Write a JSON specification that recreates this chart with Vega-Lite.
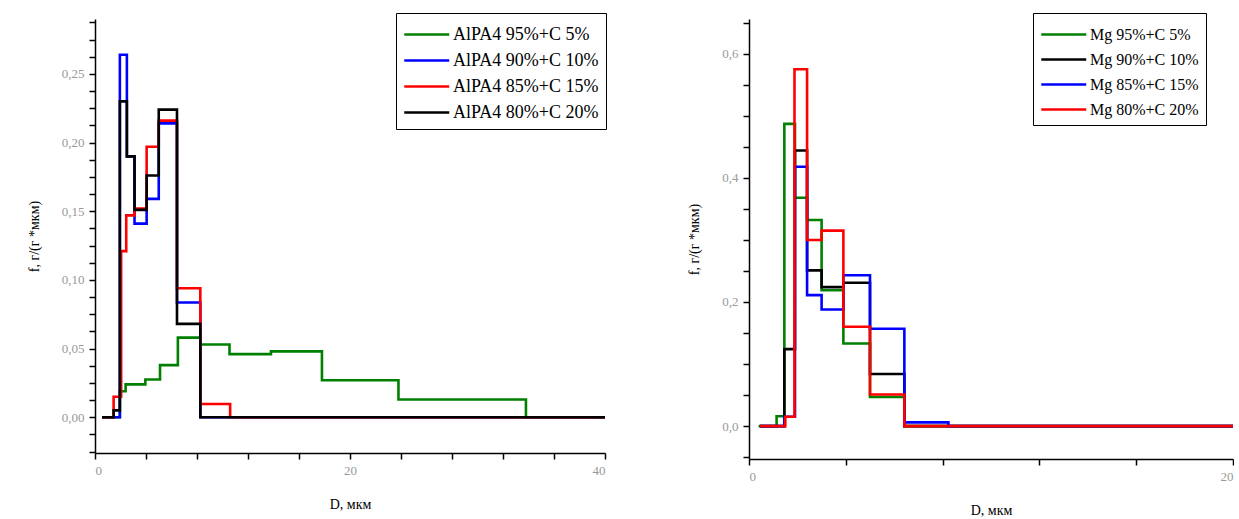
{
  "$schema": "https://vega.github.io/schema/vega-lite/v6.json",
  "padding": {"left": 27, "top": 12, "right": 0, "bottom": 0},
  "background": "white",
  "spacing": 80,
  "config": {
    "view": {"stroke": null},
    "axis": {
      "grid": false,
      "domainColor": "black",
      "domainWidth": 1.5,
      "tickColor": "black",
      "tickWidth": 1.5,
      "tickSize": 6,
      "labelColor": "#999999",
      "labelFont": "Liberation Serif",
      "labelFontSize": 13,
      "labelPadding": 5,
      "titleFont": "Liberation Serif",
      "titleFontSize": 14,
      "titleFontWeight": "normal",
      "titleColor": "black"
    },
    "legend": {
      "labelFont": "Liberation Serif",
      "labelColor": "black",
      "labelLimit": 300,
      "labelOffset": 21,
      "symbolType": "M-1,0H2.4",
      "symbolStrokeWidth": 2.5,
      "symbolSize": 700,
      "symbolFillColor": "transparent",
      "strokeColor": "black",
      "fillColor": "white",
      "padding": 7,
      "rowPadding": 2
    }
  },
  "hconcat": [
    {
      "width": 510,
      "height": 434,
      "data": {"values": [
        {"s": "AlPA4 95%+C 5%", "d": 0.55, "f": 0},
        {"s": "AlPA4 95%+C 5%", "d": 1.95, "f": 0.019},
        {"s": "AlPA4 95%+C 5%", "d": 2.4, "f": 0.024},
        {"s": "AlPA4 95%+C 5%", "d": 3.95, "f": 0.0275},
        {"s": "AlPA4 95%+C 5%", "d": 5.1, "f": 0.038},
        {"s": "AlPA4 95%+C 5%", "d": 6.5, "f": 0.058},
        {"s": "AlPA4 95%+C 5%", "d": 8.26, "f": 0.053},
        {"s": "AlPA4 95%+C 5%", "d": 10.55, "f": 0.046},
        {"s": "AlPA4 95%+C 5%", "d": 13.8, "f": 0.048},
        {"s": "AlPA4 95%+C 5%", "d": 17.8, "f": 0.027},
        {"s": "AlPA4 95%+C 5%", "d": 23.8, "f": 0.013},
        {"s": "AlPA4 95%+C 5%", "d": 33.8, "f": 0},
        {"s": "AlPA4 95%+C 5%", "d": 40, "f": 0},
        {"s": "AlPA4 90%+C 10%", "d": 0.55, "f": 0},
        {"s": "AlPA4 90%+C 10%", "d": 1.95, "f": 0.264},
        {"s": "AlPA4 90%+C 10%", "d": 2.5, "f": 0.19},
        {"s": "AlPA4 90%+C 10%", "d": 3.1, "f": 0.141},
        {"s": "AlPA4 90%+C 10%", "d": 4.05, "f": 0.159},
        {"s": "AlPA4 90%+C 10%", "d": 5.0, "f": 0.214},
        {"s": "AlPA4 90%+C 10%", "d": 6.43, "f": 0.0836},
        {"s": "AlPA4 90%+C 10%", "d": 8.26, "f": 0},
        {"s": "AlPA4 90%+C 10%", "d": 40, "f": 0},
        {"s": "AlPA4 85%+C 15%", "d": 0.55, "f": 0},
        {"s": "AlPA4 85%+C 15%", "d": 1.46, "f": 0.015},
        {"s": "AlPA4 85%+C 15%", "d": 2.05, "f": 0.121},
        {"s": "AlPA4 85%+C 15%", "d": 2.45, "f": 0.147},
        {"s": "AlPA4 85%+C 15%", "d": 3.1, "f": 0.152},
        {"s": "AlPA4 85%+C 15%", "d": 4.05, "f": 0.197},
        {"s": "AlPA4 85%+C 15%", "d": 5.0, "f": 0.216},
        {"s": "AlPA4 85%+C 15%", "d": 6.43, "f": 0.094},
        {"s": "AlPA4 85%+C 15%", "d": 8.26, "f": 0.0097},
        {"s": "AlPA4 85%+C 15%", "d": 10.6, "f": 0},
        {"s": "AlPA4 85%+C 15%", "d": 40, "f": 0},
        {"s": "AlPA4 80%+C 20%", "d": 0.55, "f": 0},
        {"s": "AlPA4 80%+C 20%", "d": 1.46, "f": 0.005},
        {"s": "AlPA4 80%+C 20%", "d": 1.95, "f": 0.23},
        {"s": "AlPA4 80%+C 20%", "d": 2.5, "f": 0.19},
        {"s": "AlPA4 80%+C 20%", "d": 3.1, "f": 0.151},
        {"s": "AlPA4 80%+C 20%", "d": 4.05, "f": 0.176},
        {"s": "AlPA4 80%+C 20%", "d": 5.0, "f": 0.224},
        {"s": "AlPA4 80%+C 20%", "d": 6.43, "f": 0.068},
        {"s": "AlPA4 80%+C 20%", "d": 8.26, "f": 0},
        {"s": "AlPA4 80%+C 20%", "d": 40, "f": 0}
      ]},
      "mark": {"type": "line", "interpolate": "step-after", "strokeWidth": 2.6, "clip": true},
      "encoding": {
        "x": {
          "field": "d", "type": "quantitative",
          "scale": {"domain": [0, 40], "nice": false, "zero": false},
          "axis": {
            "title": "D, мкм",
            "titlePadding": 20,
            "values": [0, 4, 8, 12, 16, 20, 24, 28, 32, 36, 40],
            "labelExpr": "datum.value % 20 === 0 ? datum.label : ''"
          }
        },
        "y": {
          "field": "f", "type": "quantitative",
          "scale": {"domain": [-0.026, 0.29], "nice": false, "zero": false},
          "axis": {
            "title": "f, г/(г *мкм)",
            "titlePadding": 20,
            "values": [-0.025, -0.0125, 0, 0.0125, 0.025, 0.0375, 0.05, 0.0625, 0.075, 0.0875, 0.1, 0.1125, 0.125, 0.1375, 0.15, 0.1625, 0.175, 0.1875, 0.2, 0.2125, 0.225, 0.2375, 0.25, 0.2625, 0.275, 0.2875],
            "labelExpr": "abs(datum.value*20 - round(datum.value*20)) < 1e-6 ? replace(format(datum.value, '.2f'), '.', ',') : ''"
          }
        },
        "color": {
          "field": "s", "type": "nominal",
          "scale": {
            "domain": ["AlPA4 95%+C 5%", "AlPA4 90%+C 10%", "AlPA4 85%+C 15%", "AlPA4 80%+C 20%"],
            "range": ["#008000", "#0000ff", "#ff0000", "#000000"]
          },
          "legend": {"title": null, "orient": "none", "legendX": 301, "legendY": -6, "labelFontSize": 18}
        }
      }
    },
    {
      "width": 484,
      "height": 440,
      "data": {"values": [
        {"s": "Mg 95%+C 5%", "d": 0.4, "f": 0},
        {"s": "Mg 95%+C 5%", "d": 1.14, "f": 0.016},
        {"s": "Mg 95%+C 5%", "d": 1.46, "f": 0.487},
        {"s": "Mg 95%+C 5%", "d": 1.9, "f": 0.368},
        {"s": "Mg 95%+C 5%", "d": 2.4, "f": 0.332},
        {"s": "Mg 95%+C 5%", "d": 3.0, "f": 0.219},
        {"s": "Mg 95%+C 5%", "d": 3.9, "f": 0.133},
        {"s": "Mg 95%+C 5%", "d": 5.0, "f": 0.047},
        {"s": "Mg 95%+C 5%", "d": 6.42, "f": 0},
        {"s": "Mg 95%+C 5%", "d": 20, "f": 0},
        {"s": "Mg 90%+C 10%", "d": 0.45, "f": 0},
        {"s": "Mg 90%+C 10%", "d": 1.46, "f": 0.124},
        {"s": "Mg 90%+C 10%", "d": 1.9, "f": 0.444},
        {"s": "Mg 90%+C 10%", "d": 2.4, "f": 0.251},
        {"s": "Mg 90%+C 10%", "d": 3.0, "f": 0.224},
        {"s": "Mg 90%+C 10%", "d": 3.9, "f": 0.231},
        {"s": "Mg 90%+C 10%", "d": 5.0, "f": 0.084},
        {"s": "Mg 90%+C 10%", "d": 6.42, "f": 0},
        {"s": "Mg 90%+C 10%", "d": 20, "f": 0},
        {"s": "Mg 85%+C 15%", "d": 0.45, "f": 0},
        {"s": "Mg 85%+C 15%", "d": 1.46, "f": 0.015},
        {"s": "Mg 85%+C 15%", "d": 1.9, "f": 0.418},
        {"s": "Mg 85%+C 15%", "d": 2.4, "f": 0.211},
        {"s": "Mg 85%+C 15%", "d": 3.0, "f": 0.188},
        {"s": "Mg 85%+C 15%", "d": 3.9, "f": 0.243},
        {"s": "Mg 85%+C 15%", "d": 5.0, "f": 0.157},
        {"s": "Mg 85%+C 15%", "d": 6.42, "f": 0.006},
        {"s": "Mg 85%+C 15%", "d": 8.24, "f": 0},
        {"s": "Mg 85%+C 15%", "d": 20, "f": 0},
        {"s": "Mg 80%+C 20%", "d": 0.45, "f": 0},
        {"s": "Mg 80%+C 20%", "d": 1.5, "f": 0.015},
        {"s": "Mg 80%+C 20%", "d": 1.88, "f": 0.575},
        {"s": "Mg 80%+C 20%", "d": 2.4, "f": 0.3},
        {"s": "Mg 80%+C 20%", "d": 3.0, "f": 0.315},
        {"s": "Mg 80%+C 20%", "d": 3.9, "f": 0.16},
        {"s": "Mg 80%+C 20%", "d": 5.0, "f": 0.051},
        {"s": "Mg 80%+C 20%", "d": 6.42, "f": 0},
        {"s": "Mg 80%+C 20%", "d": 20, "f": 0}
      ]},
      "mark": {"type": "line", "interpolate": "step-after", "strokeWidth": 2.6, "clip": true},
      "encoding": {
        "x": {
          "field": "d", "type": "quantitative",
          "scale": {"domain": [0, 20], "nice": false, "zero": false},
          "axis": {
            "title": "D, мкм",
            "titlePadding": 20,
            "values": [0, 4, 8, 12, 16, 20],
            "labelExpr": "datum.value % 20 === 0 ? datum.label : ''"
          }
        },
        "y": {
          "field": "f", "type": "quantitative",
          "scale": {"domain": [-0.053, 0.656], "nice": false, "zero": false},
          "axis": {
            "title": "f, г/(г *мкм)",
            "titlePadding": 20,
            "values": [-0.05, 0, 0.05, 0.1, 0.15, 0.2, 0.25, 0.3, 0.35, 0.4, 0.45, 0.5, 0.55, 0.6, 0.65],
            "labelExpr": "abs(datum.value*5 - round(datum.value*5)) < 1e-6 ? replace(format(datum.value, '.1f'), '.', ',') : ''"
          }
        },
        "color": {
          "field": "s", "type": "nominal",
          "scale": {
            "domain": ["Mg 95%+C 5%", "Mg 90%+C 10%", "Mg 85%+C 15%", "Mg 80%+C 20%"],
            "range": ["#008000", "#000000", "#0000ff", "#ff0000"]
          },
          "legend": {"title": null, "orient": "none", "legendX": 284, "legendY": -6, "labelFontSize": 16}
        }
      }
    }
  ],
  "resolve": {"scale": {"color": "independent"}, "legend": {"color": "independent"}}
}
